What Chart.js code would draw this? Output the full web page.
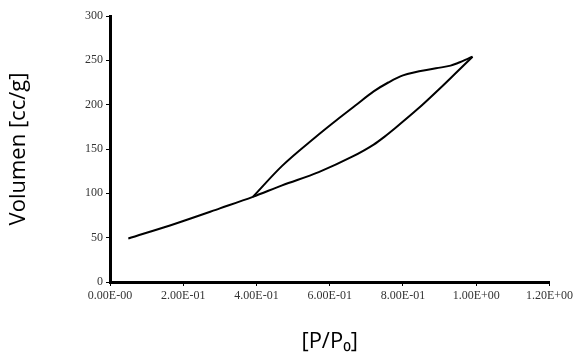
<!DOCTYPE html>
<html>
<head>
<meta charset="utf-8">
<script src="https://cdn.jsdelivr.net/npm/chart.js@4"></script>
<style>
  body { margin: 0; background: #fff; }
</style>
</head>
<body>
<canvas id="isothermCanvas" width="576" height="362"></canvas>
<script>
// adsorcion (rama inferior)
const adsX = [0.05, 0.18, 0.30, 0.39, 0.47, 0.57, 0.66, 0.72, 0.75, 0.78, 0.84, 0.90, 0.95, 0.99];
const adsY = [49, 66, 83, 96, 109, 124, 141, 155, 164, 174, 195, 218, 238, 254];
// desorcion (rama superior), ordenada por x
const desX = [0.39, 0.47, 0.56, 0.62, 0.67, 0.72, 0.76, 0.80, 0.89, 0.93, 0.95, 0.99];
const desY = [96, 131, 163, 183, 199, 215, 225, 233, 241, 244, 247, 254];

const xTicks = [0, 0.2, 0.4, 0.6, 0.8, 1.0, 1.2];
const xTickLabels = ['0.00E-00', '2.00E-01', '4.00E-01', '6.00E-01', '8.00E-01', '1.00E+00', '1.20E+00'];
const yTicks = [0, 50, 100, 150, 200, 250, 300];

const toPoints = (xs, ys) => xs.map((x, i) => ({ x: x, y: ys[i] }));

const tickFont = { family: 'Liberation Serif', size: 12 };
const titleFont = { family: 'Open Sans', size: 22 };

const ctx = document.getElementById('isothermCanvas').getContext('2d');

new Chart(ctx, {
    type: 'scatter',
    data: {
        datasets: [
            {
                label: 'Adsorcion',
                data: toPoints(adsX, adsY),
                showLine: true,
                borderColor: '#000',
                borderWidth: 2,
                pointRadius: 0,
                cubicInterpolationMode: 'monotone'
            },
            {
                label: 'Desorcion',
                data: toPoints(desX, desY),
                showLine: true,
                borderColor: '#000',
                borderWidth: 2,
                pointRadius: 0,
                cubicInterpolationMode: 'monotone'
            }
        ]
    },
    options: {
        responsive: false,
        animation: false,
        layout: {
            padding: { top: 16, right: 26, left: 0, bottom: 0 }
        },
        plugins: {
            legend: { display: false },
            tooltip: { enabled: false }
        },
        scales: {
            x: {
                type: 'linear',
                min: 0,
                max: 1.2,
                afterBuildTicks: scale => { scale.ticks = xTicks.map(v => ({ value: v })); },
                afterFit: scale => { scale.height = 80; },
                border: { color: '#000', width: 3 },
                grid: { drawOnChartArea: false, color: '#000', tickLength: 4 },
                ticks: {
                    color: '#333',
                    font: tickFont,
                    maxRotation: 0,
                    callback: (value, index) => xTickLabels[index]
                },
                title: {
                    display: true,
                    text: '[P/P₀]',
                    color: '#000',
                    font: titleFont,
                    padding: { top: 0, bottom: 7 }
                }
            },
            y: {
                min: 0,
                max: 300,
                afterBuildTicks: scale => { scale.ticks = yTicks.map(v => ({ value: v })); },
                afterFit: scale => { scale.width = 110; },
                border: { color: '#000', width: 3 },
                grid: { drawOnChartArea: false, color: '#000', tickLength: 4 },
                ticks: {
                    color: '#333',
                    font: tickFont,
                    padding: 3
                },
                title: {
                    display: true,
                    text: 'Volumen [cc/g]',
                    color: '#000',
                    font: titleFont,
                    padding: { top: 6, bottom: 0 }
                }
            }
        }
    }
});
</script>
</body>
</html>
